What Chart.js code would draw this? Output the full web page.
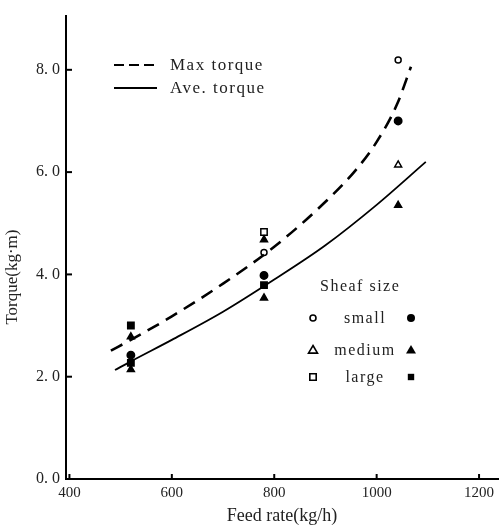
<!DOCTYPE html>
<html><head><meta charset="utf-8">
<script src="https://cdn.jsdelivr.net/npm/chart.js@4.4.1/dist/chart.umd.min.js"></script>
<style>html,body{margin:0;padding:0;background:#fff}canvas{display:block}</style>
</head><body>
<canvas id="c" width="504" height="529"></canvas>
<script>
// ---- data ----
const xTicks = [400, 600, 800, 1000, 1200];
const xTickLabels = ['400', '600', '800', '1000', '1200'];
const yTicks = [0, 2, 4, 6, 8];
const yTickLabels = ['0. 0', '2. 0', '4. 0', '6. 0', '8. 0'];

const maxCurveX = [481, 520, 600, 700, 800, 900, 960, 1000, 1040, 1067];
const maxCurveY = [2.51, 2.72, 3.18, 3.82, 4.54, 5.42, 6.05, 6.59, 7.33, 8.06];
const aveCurveX = [489, 520, 600, 700, 800, 900, 1000, 1096];
const aveCurveY = [2.13, 2.30, 2.72, 3.27, 3.90, 4.57, 5.36, 6.20];

const smallOpenX = [780, 1042];        const smallOpenY = [4.43, 8.19];
const smallFilledX = [520, 780, 1042]; const smallFilledY = [2.42, 3.98, 7.00];
const mediumOpenX = [1042];            const mediumOpenY = [6.14];
const mediumFilledX = [520, 520, 780, 780, 1042]; const mediumFilledY = [2.78, 2.14, 4.68, 3.54, 5.35];
const largeOpenX = [780];              const largeOpenY = [4.83];
const largeFilledX = [520, 520, 780];  const largeFilledY = [3.00, 2.27, 3.79];

const lineLegend = ['Max torque', 'Ave. torque'];
const sheafTitle = 'Sheaf size';
const sheafSizes = ['small', 'medium', 'large'];

const zip = (xs, ys) => xs.map((x, i) => ({x, y: ys[i]}));
const SERIF = 'Liberation Serif';

function pts(label, xs, ys, style, filled, r) {
  return {type: 'scatter', label, data: zip(xs, ys), pointStyle: style,
    pointRadius: r, pointBorderWidth: 1.5, pointBorderColor: '#000',
    pointBackgroundColor: filled ? '#000' : '#fff', showLine: false};
}

function marker(ctx, kind, x, y, filled) {
  ctx.save();
  ctx.lineWidth = 1.6; ctx.strokeStyle = '#000'; ctx.fillStyle = '#000';
  ctx.beginPath();
  if (kind === 'circle') { ctx.arc(x, y, filled ? 4 : 3, 0, Math.PI * 2); }
  else if (kind === 'triangle') { const s = filled ? 5 : 4.5; ctx.moveTo(x, y - s); ctx.lineTo(x + s, y + s * 0.7); ctx.lineTo(x - s, y + s * 0.7); ctx.closePath(); }
  else { const s = 3.2; ctx.rect(x - s, y - s, 2 * s, 2 * s); }
  if (filled) ctx.fill(); else ctx.stroke();
  ctx.restore();
}

const overlay = {
  id: 'overlay',
  beforeDraw(chart) {
    const c = chart.ctx; c.save(); c.fillStyle = '#fff'; c.fillRect(0, 0, chart.width, chart.height); c.restore();
  },
  afterDraw(chart) {
    const c = chart.ctx, xs = chart.scales.x, ys = chart.scales.y, a = chart.chartArea;
    c.save();
    c.strokeStyle = '#000'; c.lineWidth = 2;
    xTicks.forEach(v => { const p = xs.getPixelForValue(v); c.beginPath(); c.moveTo(p, a.bottom); c.lineTo(p, a.bottom - 5); c.stroke(); });
    yTicks.forEach(v => { const p = ys.getPixelForValue(v); c.beginPath(); c.moveTo(a.left, p); c.lineTo(a.left + 6, p); c.stroke(); });
    // line legend
    c.lineWidth = 2.2;
    c.setLineDash([10, 5]); c.beginPath(); c.moveTo(114, 65); c.lineTo(157, 65); c.stroke();
    c.setLineDash([]); c.lineWidth = 1.8; c.beginPath(); c.moveTo(114, 88); c.lineTo(157, 88); c.stroke();
    c.fillStyle = '#222'; c.textBaseline = 'middle'; c.textAlign = 'left';
    c.font = '17px "' + SERIF + '"';
    c.letterSpacing = '1.5px';
    c.fillText(lineLegend[0], 170, 66);
    c.fillText(lineLegend[1], 170, 89);
    // sheaf size legend
    c.font = '16px "' + SERIF + '"';
    c.fillText(sheafTitle, 320, 287);
    const rows = [318, 350, 377], kinds = ['circle', 'triangle', 'rect'];
    c.textAlign = 'center';
    sheafSizes.forEach((s, i) => {
      c.fillText(s, 365, rows[i] + 1);
      marker(c, kinds[i], 313, rows[i], false);
      marker(c, kinds[i], 411, rows[i], true);
    });
    c.restore();
  }
};

new Chart(document.getElementById('c'), {
  data: {
    datasets: [
      {type: 'line', label: lineLegend[0], data: zip(maxCurveX, maxCurveY), borderColor: '#000', borderWidth: 2.6,
        borderDash: [13, 8], pointRadius: 0, cubicInterpolationMode: 'monotone', fill: false},
      {type: 'line', label: lineLegend[1], data: zip(aveCurveX, aveCurveY), borderColor: '#000', borderWidth: 1.8,
        pointRadius: 0, cubicInterpolationMode: 'monotone', fill: false},
      pts('small open', smallOpenX, smallOpenY, 'circle', false, 3),
      pts('small filled', smallFilledX, smallFilledY, 'circle', true, 3.7),
      pts('medium open', mediumOpenX, mediumOpenY, 'triangle', false, 4),
      pts('medium filled', mediumFilledX, mediumFilledY, 'triangle', true, 4),
      pts('large open', largeOpenX, largeOpenY, 'rect', false, 4.5),
      pts('large filled', largeFilledX, largeFilledY, 'rect', true, 4.5)
    ]
  },
  options: {
    responsive: false, animation: false, devicePixelRatio: 1,
    layout: {padding: {top: 10, right: 0, left: 0, bottom: 0}},
    plugins: {legend: {display: false}, tooltip: {enabled: false}},
    scales: {
      x: {type: 'linear', position: 'bottom', min: 393.3, max: 1237,
        afterBuildTicks: s => { s.ticks = xTicks.map(v => ({value: v})); },
        afterFit: s => { s.height = 50; },
        ticks: {callback: v => xTickLabels[xTicks.indexOf(v)], font: {family: SERIF, size: 15}, color: '#222', padding: 5, maxRotation: 0, autoSkip: false},
        grid: {display: false, drawTicks: false, tickLength: 0}, border: {display: true, color: '#000', width: 2},
        title: {display: true, text: 'Feed rate(kg/h)', font: {family: SERIF, size: 18}, color: '#222', padding: {top: 2, bottom: 2}}},
      y: {type: 'linear', position: 'left', min: 0, max: 9.06,
        afterBuildTicks: s => { s.ticks = yTicks.map(v => ({value: v})); },
        afterFit: s => { s.width = 66; },
        ticks: {callback: v => yTickLabels[yTicks.indexOf(v)], font: {family: SERIF, size: 16}, color: '#222', padding: 6, autoSkip: false},
        grid: {display: false, drawTicks: false, tickLength: 0}, border: {display: true, color: '#000', width: 2},
        title: {display: true, text: 'Torque(kg·m)\u00a0\u00a0\u00a0\u00a0\u00a0\u00a0\u00a0\u00a0\u00a0\u00a0\u00a0\u00a0\u00a0\u00a0', font: {family: SERIF, size: 17}, color: '#222', padding: {top: 2, bottom: 0}}}
    }
  },
  plugins: [overlay]
});
</script>
</body></html>
